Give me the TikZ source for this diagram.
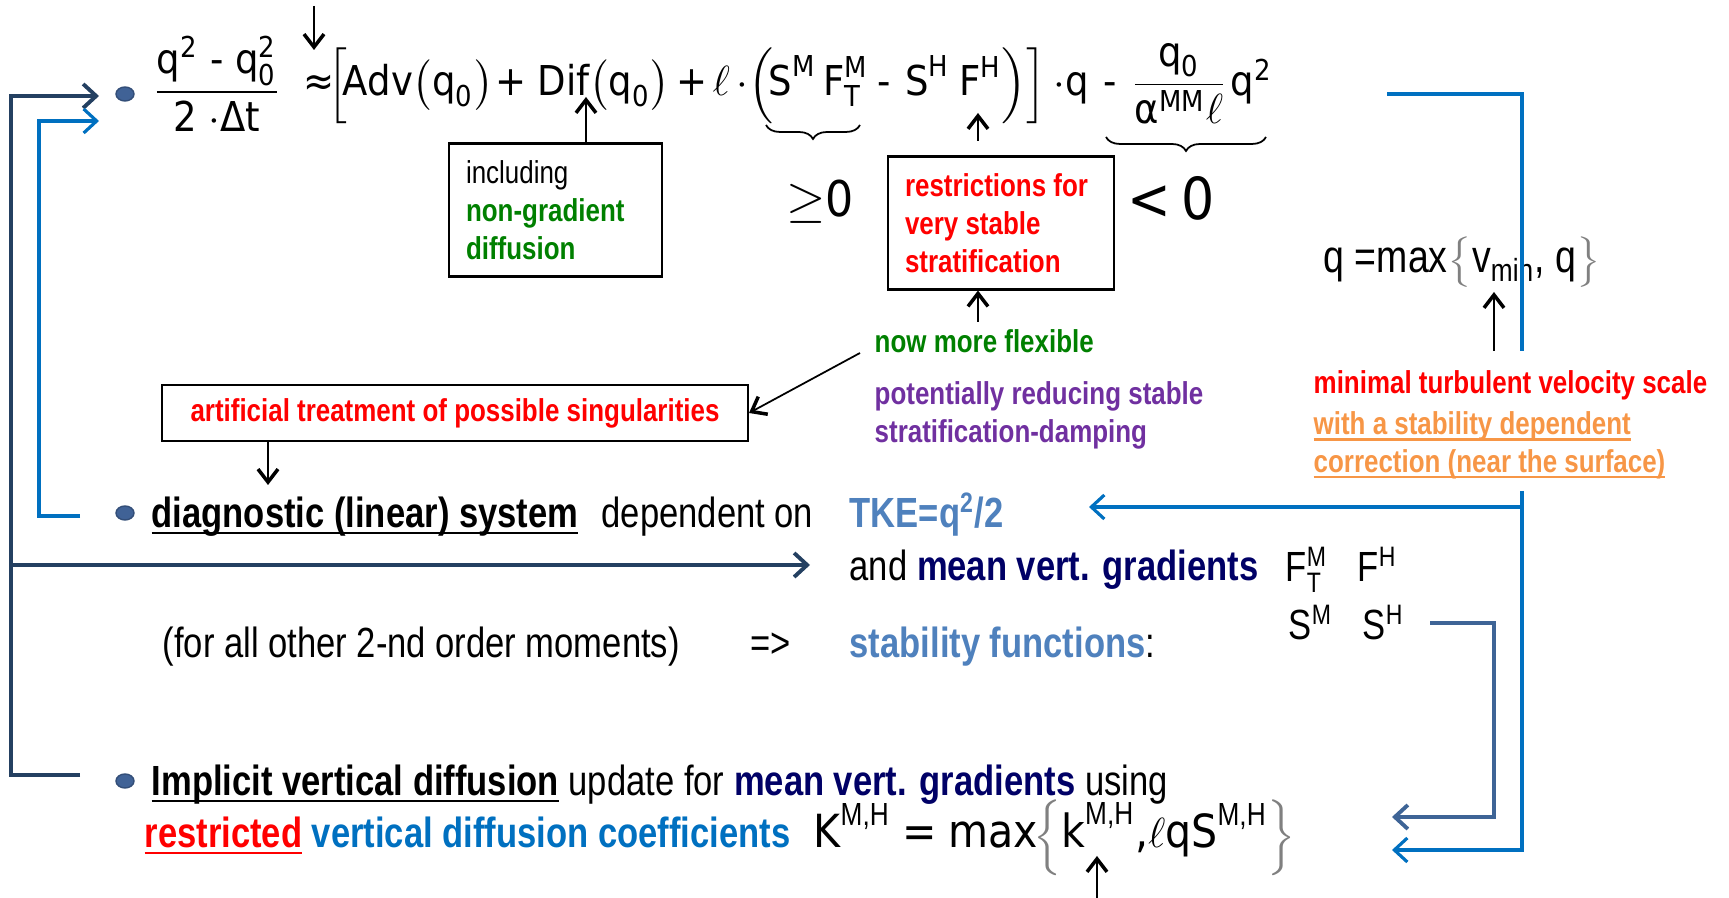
\documentclass[tikz,border=0pt]{standalone}
\usepackage{amsmath}
\usepackage{fontspec}
\usetikzlibrary{arrows.meta, positioning, shapes.geometric, decorations.pathreplacing}
\setmainfont{Liberation Sans}[FakeStretch=0.82]
\newfontfamily\eqfont{DejaVu Sans}[FakeStretch=0.9]
\definecolor{navyline}{RGB}{36,64,97}
\definecolor{blueline}{RGB}{0,112,192}
\definecolor{steelline}{RGB}{62,100,150}
\definecolor{bulletcol}{RGB}{64,98,150}
\definecolor{gradgreen}{RGB}{0,128,0}
\definecolor{stablered}{RGB}{255,0,0}
\definecolor{damppurple}{RGB}{112,48,160}
\definecolor{corrorange}{RGB}{247,150,70}
\definecolor{tkeblue}{RGB}{79,129,189}
\definecolor{meannavy}{RGB}{0,0,102}
\definecolor{coefblue}{RGB}{0,112,192}
\newcommand{\tx}[1]{\text{#1}}
\newcommand{\nsup}[1]{^{\text{\rmfamily #1}}}
\newcommand{\ulx}[1]{\setbox0=\hbox{#1}\rlap{\rule[-1.8pt]{\wd0}{0.75pt}}\box0}

\begin{document}
\begin{tikzpicture}[x=0.1mm, y=-0.1mm,
    body/.style={inner sep=0pt, anchor=base west, font=\fontsize{12}{14.4}\selectfont},
    eq/.style={inner sep=0pt, anchor=base west, font=\eqfont\fontsize{11.7}{14}\selectfont},
    note/.style={inner sep=0pt, anchor=west, align=left, font=\bfseries\fontsize{9}{10.8}\selectfont},
    notebox/.style={rectangle, draw, line width=0.6pt, align=flush left, inner xsep=1.7mm, inner ysep=0pt, font=\fontsize{9}{10.8}\selectfont},
    bulletdot/.style={ellipse, fill=bulletcol, draw=bulletcol!80!black, line width=0.4pt, inner sep=0pt, minimum width=1.8mm, minimum height=1.4mm},
    pointer/.style={line width=0.5pt, -{Straight Barb[length=1.3mm, width=2mm, line width=1pt]}},
    feed/.style={line width=1.1pt, -{Straight Barb[length=1.3mm, width=2.4mm]}},
    curly/.style={decorate, decoration={brace, mirror, amplitude=1.4mm}, line width=0.5pt}
]
    \useasboundingbox (0,0) rectangle (1729,898);

    % TKE equation
    \node[bulletdot] (dot1) at (125,94) {};
    \node[eq, anchor=center] (lhs) at (217,84) {$\dfrac{\tx{q}^{\tx{2}}\;\tx{-}\;\tx{q}_{\tx{0}}^{\tx{2}}}{\tx{2}\mkern5mu{\cdot}\tx{Δt}}$};
    \node[eq] (advterm) at (303,96) {$\tx{≈}\mkern-3mu\Big[\mkern-2mu\tx{Adv}\big(\tx{q}_{\tx{0}}\big)\mkern1mu\tx{+}$};
    \node[eq] (difterm) at (537,96) {$\tx{Dif}\big(\tx{q}_{\tx{0}}\big)\mkern3mu\tx{+}\mkern2mu\ell\mkern3mu{\cdot}\mkern0mu\Big($};
    \node[eq] (momterm) at (768,96) {$\tx{S}^{\tx{M}}\,\tx{F}^{\tx{M}}_{\tx{T}}$};
    \node[eq] (heatterm) at (877,96) {$\tx{-}\mkern6mu\tx{S}^{\tx{H}}\mkern4mu\tx{F}^{\tx{H}}\Big)\Big]\mkern3mu{\cdot}\tx{q}\mkern6mu\tx{-}$};
    \node[eq, anchor=center] (dissfrac) at (1179,84) {$\dfrac{\tx{q}_{\tx{0}}}{\tx{α}^{\tx{MM}}\ell}$};
    \node[eq] (qsq) at (1230,96) {$\tx{q}^{\tx{2}}$};
    \draw[curly] (766,125) -- (860,125);
    \draw[curly] (1106,137) -- (1266,137);
    \node[eq, anchor=center, font=\eqfont\fontsize{14}{16}\selectfont] (geqzero) at (820,202) {$\geq$0};
    \node[eq, anchor=center, font=\eqfont\fontsize{16.5}{19}\selectfont] (ltzero) at (1171,198) {<\kern1mm0};

    % notes
    \node[notebox, text width=17.9mm, minimum height=13.3mm] (incl) at (555.5,210) {including\\\textbf{\color{gradgreen}non-gradient}\\\textbf{\color{gradgreen}diffusion}};
    \node[notebox, text width=19.2mm, minimum height=13.3mm, text=stablered, font=\bfseries\fontsize{9}{10.8}\selectfont] (restr) at (1001,223) {restrictions for\\very stable\\stratification};
    \node[notebox, align=center, minimum width=58.6mm, minimum height=5.6mm, text=stablered, font=\bfseries\fontsize{9}{10.8}\selectfont] (artif) at (455,413) {artificial treatment of possible singularities};
    \node[note, text=gradgreen] (flex) at (874,341) {now more flexible};
    \node[note, text=damppurple] (damp) at (874,415) {potentially reducing stable\\stratification-damping};
    \node[body, font=\fontsize{13}{15}\selectfont] (qmax) at (1323,273) {q =max{\color{gray}$\big\{$}v$_{\text{min}}$, q{\color{gray}$\big\}$}};
    \node[note, text=stablered] (minscale) at (1313,385) {minimal turbulent velocity scale};
    \node[note, text=corrorange] (surfcorr) at (1313,445) {\ulx{with a stability dependent}\\\ulx{correction (near the surface)}};

    % diagnostic system
    \node[bulletdot] (dot2) at (125,513) {};
    \node[body] (diag) at (151,528) {\textbf{\ulx{diagnostic (linear) system}}};
    \node[body] (dep) at (601,528) {dependent on};
    \node[body] (tke) at (849,528) {\textbf{\color{tkeblue}TKE=q\textsuperscript{2}/2}};
    \node[body] (gradline) at (849,581) {and \textbf{\color{meannavy}mean vert. gradients}};
    \node[body] (fgrad) at (1285,582) {F$^{\text{M}}_{\text{T}}$\hspace{3mm}F$^{\text{H}}$};
    \node[body] (sfun) at (1288,640) {S$^{\text{M}}$\hspace{3mm}S$^{\text{H}}$};
    \node[body] (moments) at (162,658) {(for all other 2-nd order moments)};
    \node[body] (implies) at (750,658) {=>};
    \node[body] (stab) at (849,658) {\textbf{\color{tkeblue}stability functions}:};

    % vertical diffusion
    \node[bulletdot] (dot3) at (125,781) {};
    \node[body] (impl) at (151,796) {\textbf{\ulx{Implicit vertical diffusion}} update for \textbf{\color{meannavy}mean vert. gradients} using};
    \node[body] (restrcoef) at (144,848) {\textbf{\color{stablered}\ulx{restricted}} \textbf{\color{coefblue}vertical diffusion coefficients}};
    \node[eq, font=\eqfont\fontsize{13}{15}\selectfont] (kform) at (813,848) {$\tx{K}\nsup{M,H}\mkern5mu\tx{=}\mkern5mu\tx{max}\mkern-2mu{\color{gray}\Big\{}\tx{k}\nsup{M,H}\tx{,}\ell\tx{qS}\nsup{M,H}{\color{gray}\Big\}}$};

    % pointers
    \coordinate (approxTop) at (314,6);
    \coordinate (approxTip) at (314,50);
    \coordinate (difTip) at (586,97);
    \coordinate (fhTail) at (978,141);
    \coordinate (fhTip) at (978,113);
    \coordinate (flexTail) at (978,322);
    \coordinate (diagTip) at (268,485);
    \coordinate (vminTail) at (1494,351);
    \coordinate (vminTip) at (1494,292);
    \coordinate (kTail) at (1097,898);
    \coordinate (kTip) at (1097,856);
    \draw[pointer] (approxTop) -- (approxTip);
    \draw[pointer] (incl.north -| difTip) -- (difTip);
    \draw[pointer] (fhTail) -- (fhTip);
    \draw[pointer] (flexTail) -- (restr.south -| flexTail);
    \draw[pointer] ([xshift=-1.4mm,yshift=-1.2mm]flex.west) -- (artif.east);
    \draw[pointer] (artif.south -| diagTip) -- (diagTip);
    \draw[pointer] (vminTail) -- (vminTip);
    \draw[pointer] (kTail) -- (kTip);

    % feedback loops
    \coordinate (navyTop) at (99,96);
    \coordinate (navyFoot) at (80,775);
    \coordinate (navyMid) at (11,565);
    \coordinate (navyTip) at (810,565);
    \draw[feed, navyline] (navyFoot) -- ++(-69,0) |- (navyTop);
    \draw[feed, navyline] (navyMid) -- (navyTip);
    \coordinate (blueTop) at (99,121);
    \coordinate (blueFoot) at (80,516);
    \draw[feed, blueline, line width=0.9pt] (blueFoot) -- ++(-41,0) |- (blueTop);
    \coordinate (blueStart) at (1387,94);
    \coordinate (blueGap) at (1522,351);
    \coordinate (blueResume) at (1522,491);
    \coordinate (blueEnd) at (1392,850);
    \coordinate (tkeTip) at (1089,507);
    \draw[blueline, line width=0.9pt] (blueStart) -| (blueGap);
    \draw[feed, blueline, line width=0.9pt] (blueResume) |- (blueEnd);
    \draw[feed, blueline, line width=0.9pt] (blueResume |- tkeTip) -- (tkeTip);
    \coordinate (sfunOut) at (1430,623);
    \coordinate (steelEnd) at (1392,817);
    \draw[feed, steelline] (sfunOut) -- ++(64,0) |- (steelEnd);
\end{tikzpicture}
\end{document}
